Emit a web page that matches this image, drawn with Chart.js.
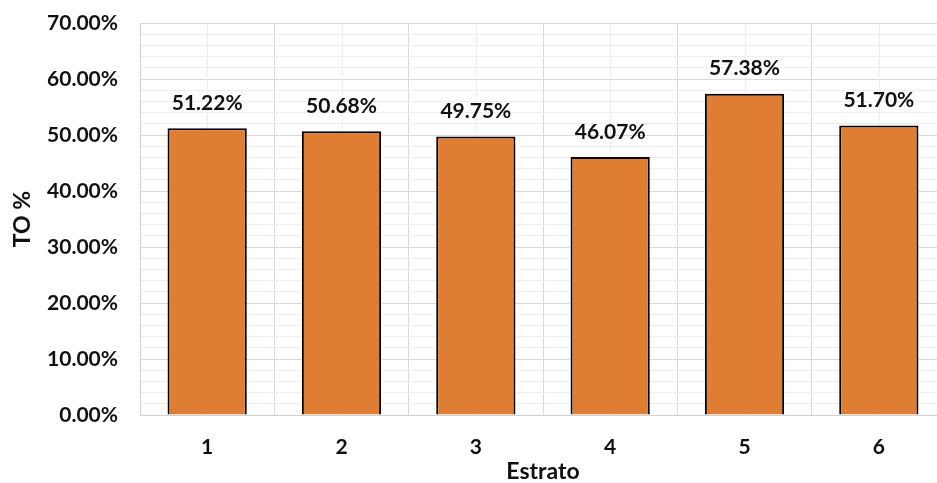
<!DOCTYPE html>
<html>
<head>
<meta charset="utf-8">
<script src="https://cdn.jsdelivr.net/npm/chart.js@4/dist/chart.umd.min.js"></script>
<style>
  html, body { margin: 0; padding: 0; background: #fff; overflow: hidden; }
  #wrap { width: 950px; height: 483px; }
</style>
</head>
<body>
<div id="wrap"><canvas id="myChart" width="950" height="483"></canvas></div>
<script>
const estratos = ["1", "2", "3", "4", "5", "6"]
const toValues = [51.22, 50.68, 49.75, 46.07, 57.38, 51.70]
const yTitle = "TO %"
const xTitle = "Estrato"

const fontFam = "Lato, 'Open Sans', sans-serif"
const textColor = "#111111"

// light grid lines at category centres + value labels above bars
const extras = {
  id: "extras",
  beforeDatasetsDraw(chart) {
    const ctx = chart.ctx
    const x = chart.scales.x
    const area = chart.chartArea
    ctx.save()
    ctx.strokeStyle = "#eeeeee"
    ctx.lineWidth = 1
    estratos.forEach((e, i) => {
      const px = Math.round(x.getPixelForValue(i)) + 0.5
      ctx.beginPath()
      ctx.moveTo(px, area.top)
      ctx.lineTo(px, area.bottom)
      ctx.stroke()
    })
    ctx.restore()
  },
  afterDatasetsDraw(chart) {
    const ctx = chart.ctx
    const meta = chart.getDatasetMeta(0)
    ctx.save()
    ctx.font = "bold 21px " + fontFam
    ctx.fillStyle = textColor
    ctx.textAlign = "center"
    ctx.textBaseline = "middle"
    meta.data.forEach((bar, i) => {
      ctx.fillText(toValues[i].toFixed(2) + "%", bar.x, bar.y - 25)
    })
    ctx.restore()
  }
}

const chart = new Chart("myChart", {
  type: "bar",
  data: {
    labels: estratos,
    datasets: [{
      data: toValues,
      backgroundColor: "#df7e32",
      borderColor: "#000000",
      borderWidth: 2,
      categoryPercentage: 1,
      barPercentage: 0.59
    }]
  },
  options: {
    responsive: false,
    animation: false,
    layout: { padding: { top: 23, right: 4, left: 0, bottom: 0 } },
    plugins: {
      legend: { display: false },
      tooltip: { enabled: false }
    },
    scales: {
      x: {
        grid: { color: "#d9d9d9", drawTicks: false, offset: true },
        border: { color: "#d0d0d0" },
        ticks: { color: textColor, padding: 20, font: { family: fontFam, size: 21, weight: "bold" } },
        title: {
          display: true, text: xTitle, color: textColor,
          padding: { top: 0, bottom: 0 },
          font: { family: fontFam, size: 23, weight: "bold", lineHeight: 1 }
        },
        afterFit(scale) { scale.height = 68 }
      },
      y: {
        min: 0,
        max: 70,
        grid: {
          drawTicks: true,
          tickLength: 22,
          tickColor: "rgba(0,0,0,0)",
          color: ctx => (Math.round(ctx.tick.value) % 10 === 0 ? "#d9d9d9" : "#eeeeee")
        },
        border: { color: "#d0d0d0" },
        ticks: {
          stepSize: 2,
          autoSkip: false,
          padding: 0,
          color: textColor,
          font: { family: fontFam, size: 21, weight: "bold" },
          callback: v => (Math.round(v) % 10 === 0 ? Number(v).toFixed(2) + "%" : "")
        },
        title: {
          display: true, text: yTitle, color: textColor,
          padding: { top: 9, bottom: 0 },
          font: { family: fontFam, size: 23, weight: "bold" }
        },
        afterFit(scale) { scale.width = 140 }
      }
    }
  },
  plugins: [extras]
})
</script>
</body>
</html>
